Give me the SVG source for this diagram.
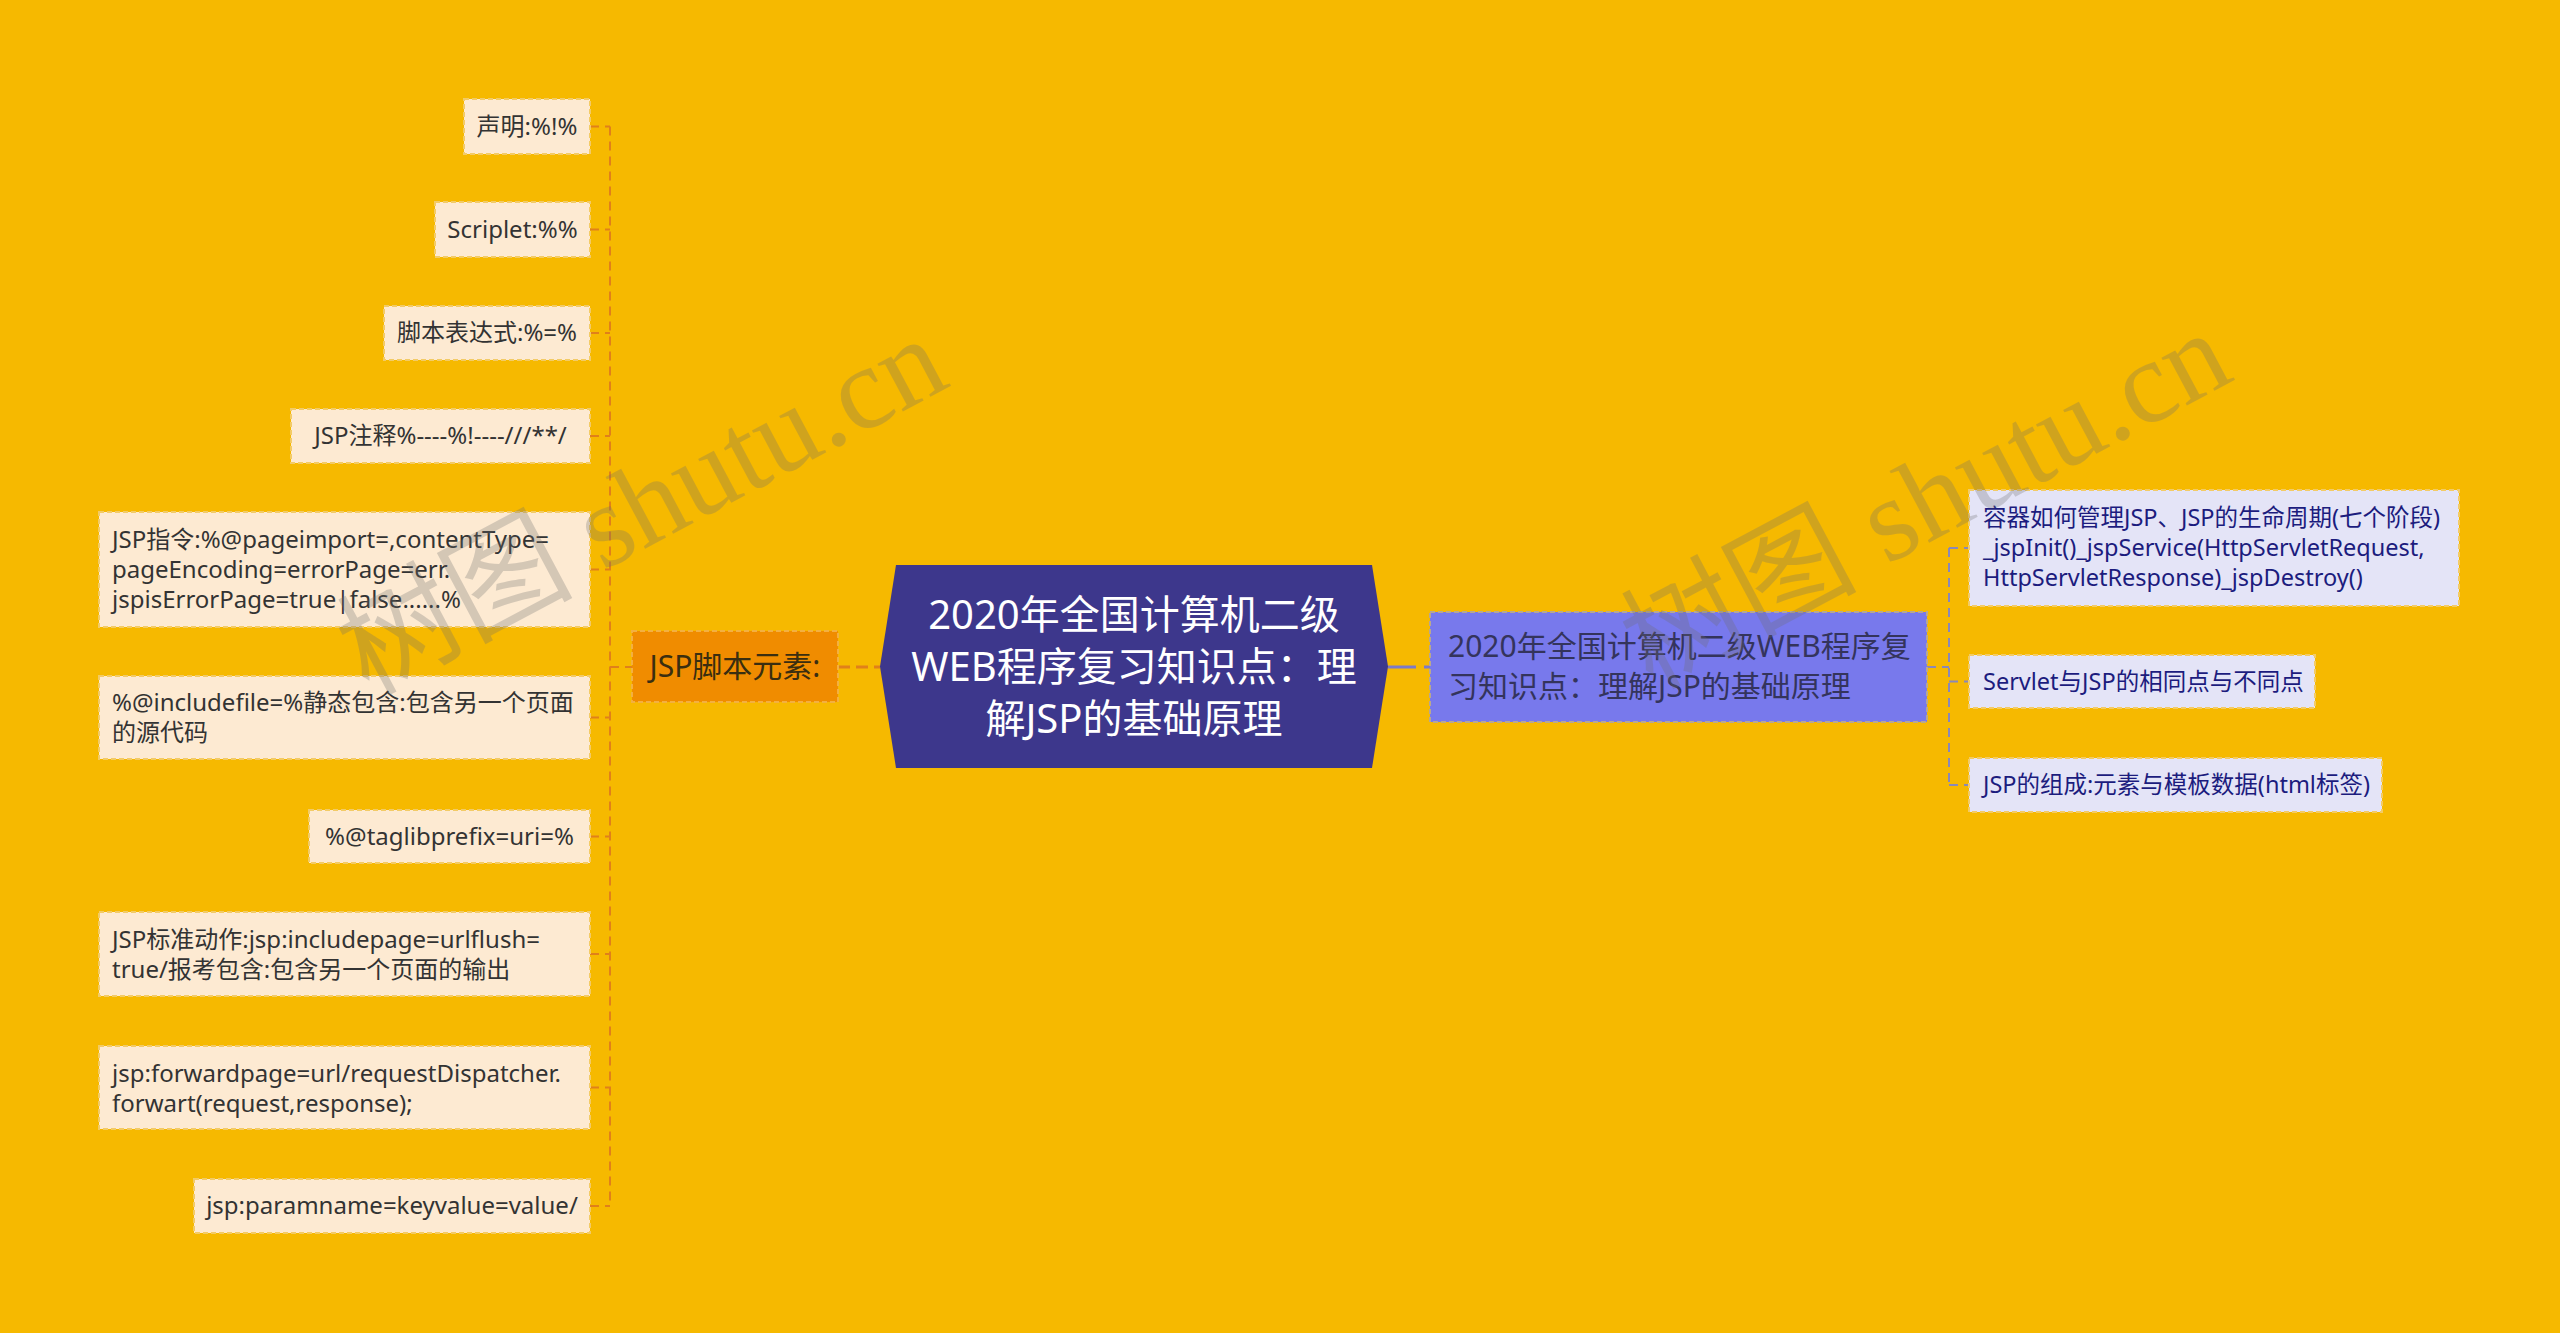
<svg xmlns="http://www.w3.org/2000/svg" width="2560" height="1333" viewBox="0 0 2560 1333">
<style>
text{font-family:"Noto Sans","Noto Sans CJK SC",sans-serif}
.leaf rect{fill:#FDEAD2;stroke:#F3CB66;stroke-width:2;stroke-dasharray:5 3}
.leaf text{font-size:24px;fill:#333333}
.rc rect{fill:#E4E4F7;stroke:#F3CB66;stroke-width:2;stroke-dasharray:5 3}
.rc text{font-size:23.5px;fill:#1C1C7E}
.lc{fill:none;stroke:#E0801A;stroke-width:2;stroke-dasharray:9 6}
.rcn{fill:none;stroke:#8A88B8;stroke-width:2;stroke-dasharray:9 6}
.wm{font-family:"Liberation Serif","Noto Sans CJK SC",serif;font-size:118px;fill:#6e6e6e;opacity:.28}
</style>
<rect width="2560" height="1333" fill="#F6B900"/>
<g id="connectors">
<path class="lc" d="M610,126.5V1206M590,126.5H610M590,229.5H610M590,333H610M590,436H610M590,569.5H610M590,717.5H610M590,836.5H610M590,954H610M590,1087.5H610M590,1206H610M610,667H632"/>
<path d="M838,667H880" fill="none" stroke="#E0801A" stroke-width="3" stroke-dasharray="12 6"/>
<path d="M1388,667H1430" fill="none" stroke="#7C7AC8" stroke-width="3" stroke-dasharray="28 8"/>
<path class="rcn" d="M1927,667H1949M1949,548V785M1949,548H1969M1949,681.5H1969M1949,785H1969"/>
</g>
<g id="leaf1" class="leaf"><rect x="464" y="99" width="126" height="55"/><text x="527" y="135" text-anchor="middle">声明:%!%</text></g>
<g id="leaf2" class="leaf"><rect x="435" y="202" width="155" height="55"/><text x="512.5" y="238" text-anchor="middle">Scriplet:%%</text></g>
<g id="leaf3" class="leaf"><rect x="384" y="306" width="206" height="54"/><text x="487" y="341" text-anchor="middle">脚本表达式:%=%</text></g>
<g id="leaf4" class="leaf"><rect x="291" y="409" width="299" height="54"/><text x="440.5" y="444" text-anchor="middle">JSP注释%----%!----///**/</text></g>
<g id="leaf5" class="leaf"><rect x="99" y="512" width="491" height="115"/><text x="112" y="548">JSP指令:%@pageimport=,contentType=</text><text x="112" y="578">pageEncoding=errorPage=err.</text><text x="112" y="608">jspisErrorPage=true|false......%</text></g>
<g id="leaf6" class="leaf"><rect x="99" y="676" width="491" height="83"/><text x="112" y="711">%@includefile=%静态包含:包含另一个页面</text><text x="112" y="741">的源代码</text></g>
<g id="leaf7" class="leaf"><rect x="309" y="810" width="281" height="53"/><text x="449.5" y="845" text-anchor="middle">%@taglibprefix=uri=%</text></g>
<g id="leaf8" class="leaf"><rect x="99" y="912" width="491" height="84"/><text x="112" y="948">JSP标准动作:jsp:includepage=urlflush=</text><text x="112" y="978">true/报考包含:包含另一个页面的输出</text></g>
<g id="leaf9" class="leaf"><rect x="99" y="1046" width="491" height="83"/><text x="112" y="1082">jsp:forwardpage=url/requestDispatcher.</text><text x="112" y="1112">forwart(request,response);</text></g>
<g id="leaf10" class="leaf"><rect x="194" y="1179" width="396" height="54"/><text x="392" y="1214" text-anchor="middle">jsp:paramname=keyvalue=value/</text></g>
<g id="branch-left"><rect x="632" y="631" width="206" height="71" fill="#F08C00" stroke="#F3B040" stroke-width="2" stroke-dasharray="5 3"/><text x="735" y="677" text-anchor="middle" font-size="30" fill="#3A2E10">JSP脚本元素:</text></g>
<g id="root"><polygon points="880,666.5 896,565 1372,565 1388,666.5 1372,768 896,768" fill="#3D378C"/><text x="1134" y="629" text-anchor="middle" font-size="40" fill="#FFFFFF">2020年全国计算机二级</text><text x="1134" y="681" text-anchor="middle" font-size="40" fill="#FFFFFF">WEB程序复习知识点：理</text><text x="1134" y="733" text-anchor="middle" font-size="40" fill="#FFFFFF">解JSP的基础原理</text></g>
<g id="branch-right"><rect x="1430" y="612" width="497" height="110" fill="#7879EC" stroke="#B8A890" stroke-width="2" stroke-dasharray="5 3"/><text x="1448" y="657" font-size="30" fill="#34345C">2020年全国计算机二级WEB程序复</text><text x="1448" y="697" font-size="30" fill="#34345C">习知识点：理解JSP的基础原理</text></g>
<g id="rc1" class="rc"><rect x="1969" y="490" width="490" height="116"/><text x="1983" y="526">容器如何管理JSP、JSP的生命周期(七个阶段)</text><text x="1983" y="556">_jspInit()_jspService(HttpServletRequest,</text><text x="1983" y="586">HttpServletResponse)_jspDestroy()</text></g>
<g id="rc2" class="rc"><rect x="1969" y="655" width="346" height="53"/><text x="1983" y="690">Servlet与JSP的相同点与不同点</text></g>
<g id="rc3" class="rc"><rect x="1969" y="758" width="413" height="54"/><text x="1983" y="793">JSP的组成:元素与模板数据(html标签)</text></g>
<g id="watermark">
<text class="wm" transform="translate(368,696) rotate(-28)">树图 shutu.cn</text>
<text class="wm" transform="translate(1652,690) rotate(-28)">树图 shutu.cn</text>
</g>
</svg>
